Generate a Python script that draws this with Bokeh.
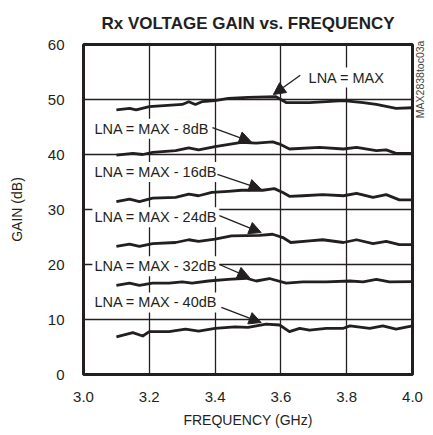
import math
from bokeh.plotting import figure
from bokeh.models import Label, Arrow, NormalHead, FixedTicker, Range1d, NumeralTickFormatter, LinearAxis
from bokeh.embed import file_html
from bokeh.resources import INLINE

FONT = "Liberation Sans"
INK = "#231f20"

# ---- data ----
freq_max = [3.10, 3.14, 3.16, 3.20, 3.30, 3.32, 3.34, 3.36, 3.40, 3.44, 3.50, 3.585, 3.616, 3.687, 3.79, 3.85, 3.89, 3.95, 4.00]
gain_max = [48.1, 48.4, 48.1, 48.7, 49.1, 49.6, 49.1, 49.6, 49.8, 50.2, 50.4, 50.5, 49.45, 49.45, 49.8, 49.45, 49.1, 48.4, 48.5]

freq_m8 = [3.10, 3.15, 3.18, 3.21, 3.28, 3.32, 3.35, 3.40, 3.48, 3.525, 3.575, 3.596, 3.626, 3.717, 3.79, 3.83, 3.89, 3.92, 3.95, 4.00]
gain_m8 = [39.9, 40.2, 40.0, 40.4, 40.7, 41.2, 40.85, 41.45, 42.2, 42.05, 42.3, 41.9, 41.0, 41.3, 41.0, 41.3, 40.7, 40.85, 40.2, 40.2]

freq_m16 = [3.10, 3.14, 3.17, 3.21, 3.28, 3.32, 3.35, 3.39, 3.44, 3.48, 3.545, 3.58, 3.606, 3.626, 3.667, 3.727, 3.79, 3.83, 3.88, 3.92, 3.96, 4.00]
gain_m16 = [31.45, 31.9, 31.45, 32.05, 32.2, 32.8, 32.5, 33.1, 33.3, 33.5, 33.5, 33.8, 33.1, 32.4, 32.5, 32.7, 32.5, 32.95, 32.2, 32.7, 31.75, 31.75]

freq_m24 = [3.10, 3.14, 3.17, 3.21, 3.28, 3.32, 3.35, 3.40, 3.45, 3.535, 3.575, 3.606, 3.63, 3.687, 3.727, 3.79, 3.83, 3.88, 3.92, 3.96, 4.00]
gain_m24 = [23.3, 23.7, 23.3, 23.8, 24.0, 24.5, 24.2, 24.6, 25.2, 25.3, 25.5, 24.9, 24.0, 24.3, 24.5, 24.0, 24.5, 23.8, 24.2, 23.6, 23.6]

freq_m32 = [3.10, 3.14, 3.17, 3.21, 3.26, 3.30, 3.33, 3.38, 3.44, 3.495, 3.525, 3.565, 3.616, 3.667, 3.738, 3.81, 3.85, 3.89, 3.93, 4.00]
gain_m32 = [16.2, 16.6, 16.2, 16.6, 16.6, 16.85, 16.6, 17.0, 17.3, 17.5, 17.0, 17.45, 16.6, 16.85, 16.85, 17.0, 16.85, 17.3, 16.85, 16.9]

freq_m40 = [3.10, 3.15, 3.18, 3.20, 3.26, 3.31, 3.35, 3.40, 3.46, 3.50, 3.555, 3.596, 3.626, 3.657, 3.687, 3.738, 3.79, 3.81, 3.87, 3.91, 3.95, 4.00]
gain_m40 = [6.85, 7.6, 7.0, 7.8, 7.8, 8.25, 7.9, 8.4, 8.65, 8.55, 9.15, 9.0, 7.8, 8.4, 8.05, 8.4, 8.4, 8.85, 8.4, 8.85, 8.25, 8.85]

series_freq = [freq_max, freq_m8, freq_m16, freq_m24, freq_m32, freq_m40]
series_gain = [gain_max, gain_m8, gain_m16, gain_m24, gain_m32, gain_m40]

label_texts = ["LNA = MAX", "LNA = MAX - 8dB", "LNA = MAX - 16dB",
               "LNA = MAX - 24dB", "LNA = MAX - 32dB", "LNA = MAX - 40dB"]
label_x = [3.678, 3.027, 3.027, 3.027, 3.027, 3.027]
label_y = [54.0, 44.7, 36.8, 28.6, 19.7, 13.1]
arrow_start_x = [3.659, 3.392, 3.407, 3.413, 3.413, 3.419]
arrow_start_y = [54.4, 44.9, 36.4, 28.9, 20.0, 12.2]
arrow_end_x = [3.577, 3.51, 3.54, 3.54, 3.505, 3.54]
arrow_end_y = [50.9, 42.3, 33.7, 25.8, 17.6, 9.45]

x_ticks = [3.0, 3.2, 3.4, 3.6, 3.8, 4.0]
y_ticks = [0, 10, 20, 30, 40, 50, 60]
side_code = "MAX2838toc03a"
side_code_pos = 46.6

p = figure(frame_width=329, frame_height=330, x_range=Range1d(3.0, 4.0), y_range=Range1d(0, 60),
           output_backend="svg", toolbar_location=None,
           min_border_left=83, min_border_right=14, min_border_top=41, min_border_bottom=55)

p.title.text = "Rx VOLTAGE GAIN vs. FREQUENCY"
p.title.align = "center"
p.title.text_font = FONT
p.title.text_font_size = "17px"
p.title.text_font_style = "bold"
p.title.text_color = INK
p.title.standoff = 23

p.outline_line_color = INK
p.outline_line_width = 3
p.background_fill_color = "white"
p.border_fill_color = "white"

for ax in (p.xaxis, p.yaxis):
    ax.axis_line_color = None
    ax.major_tick_line_color = None
    ax.minor_tick_line_color = None
    ax.major_label_text_font = FONT
    ax.major_label_text_font_size = "15px"
    ax.major_label_text_color = INK
    ax.axis_label_text_font = FONT
    ax.axis_label_text_font_size = "14px"
    ax.axis_label_text_font_style = "normal"
    ax.axis_label_text_color = INK

p.xaxis.ticker = FixedTicker(ticks=x_ticks)
p.yaxis.ticker = FixedTicker(ticks=y_ticks)
p.xaxis.formatter = NumeralTickFormatter(format="0.0")
p.xaxis.axis_label = "FREQUENCY (GHz)"
p.yaxis.axis_label = "GAIN (dB)"
p.xaxis.major_label_standoff = 11
p.xaxis.axis_label_standoff = 7
p.yaxis.major_label_standoff = 13
p.yaxis.axis_label_standoff = 20

rax = LinearAxis(ticker=FixedTicker(ticks=[side_code_pos]),
                 major_label_overrides={side_code_pos: side_code},
                 major_label_orientation=math.pi / 2,
                 major_label_text_font=FONT, major_label_text_font_size="10.5px",
                 major_label_text_color="#444444", major_label_standoff=2,
                 axis_line_color=None, major_tick_line_color=None, minor_tick_line_color=None)
p.add_layout(rax, "right")

p.xgrid.grid_line_color = INK
p.ygrid.grid_line_color = INK
p.xgrid.grid_line_width = 1.3
p.ygrid.grid_line_width = 1.3

for fx, gy in zip(series_freq, series_gain):
    p.line(fx, gy, line_color=INK, line_width=2.8, line_join="round")

for t, lx, ly in zip(label_texts, label_x, label_y):
    p.add_layout(Label(x=lx, y=ly, text=t, text_font=FONT, text_font_size="14.5px",
                       text_color=INK, text_align="left", text_baseline="middle",
                       background_fill_color="white", padding=2))

for xs, ys, xe, ye in zip(arrow_start_x, arrow_start_y, arrow_end_x, arrow_end_y):
    p.add_layout(Arrow(end=NormalHead(size=12, fill_color=INK, line_color=INK),
                       x_start=xs, y_start=ys, x_end=xe, y_end=ye,
                       line_color=INK, line_width=1.3))

open("out.html", "w").write(file_html(p, INLINE))
